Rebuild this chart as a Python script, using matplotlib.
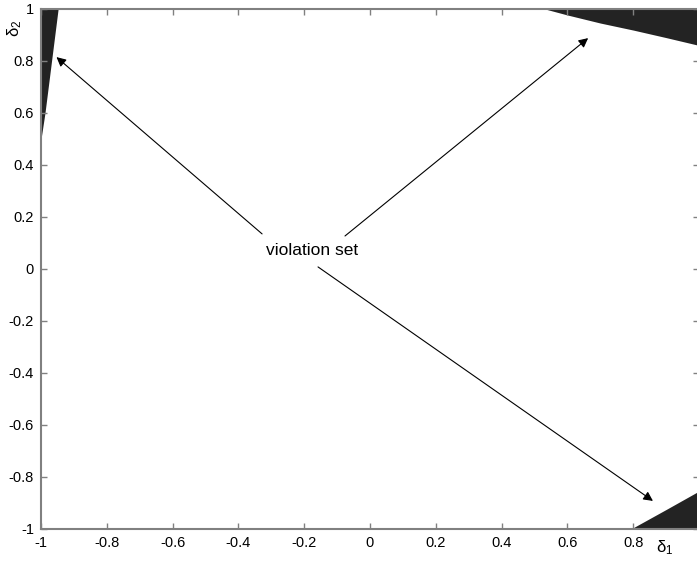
import matplotlib
matplotlib.use("Agg")
import matplotlib.pyplot as plt

# boundary of the violation set regions
tl_y = [0.50, 0.60, 0.70, 0.80, 0.90, 1.00]
tl_x = [-1.00, -0.988, -0.978, -0.968, -0.958, -0.948]

tr_x = [0.532, 0.60, 0.70, 0.80, 0.90, 1.00]
tr_y = [1.00, 0.977, 0.946, 0.919, 0.890, 0.860]

br_x = [0.793, 0.90, 1.00]
br_y = [-1.00, -0.925, -0.854]

ticks = [-1, -0.8, -0.6, -0.4, -0.2, 0, 0.2, 0.4, 0.6, 0.8, 1]
x_tick_labels = ["-1", "-0.8", "-0.6", "-0.4", "-0.2", "0", "0.2", "0.4", "0.6", "0.8", ""]
y_tick_labels = ["-1", "-0.8", "-0.6", "-0.4", "-0.2", "0", "0.2", "0.4", "0.6", "0.8", "1"]

label_text = "violation set"
text_pos = (-0.175, 0.07)
arrow_tails = [(-0.328, 0.135), (-0.076, 0.127), (-0.158, 0.008)]
arrow_tips = [(-0.953, 0.815), (0.663, 0.888), (0.860, -0.892)]

plt.rcParams['font.family'] = ['Liberation Sans', 'DejaVu Sans']
plt.rcParams['mathtext.fontset'] = 'custom'
plt.rcParams['mathtext.rm'] = 'Liberation Sans'
plt.rcParams['mathtext.it'] = 'Liberation Sans'

fig = plt.figure(figsize=(6.97, 5.64), dpi=100)
ax = fig.add_axes([41/697, 35/564, 658/697, 520/564])

fill_c = '#232323'
ax.fill_betweenx(tl_y, [-1.0]*len(tl_y), tl_x, color=fill_c, lw=0)
ax.fill_between(tr_x, tr_y, [1.0]*len(tr_x), color=fill_c, lw=0)
ax.fill_between(br_x, [-1.0]*len(br_x), br_y, color=fill_c, lw=0)

ax.set_xlim(-1, 1)
ax.set_ylim(-1, 1)
ax.set_xticks(ticks)
ax.set_xticklabels(x_tick_labels)
ax.set_yticks(ticks)
ax.set_yticklabels(y_tick_labels)

grey = '#808080'
for s in ax.spines.values():
    s.set_color(grey)
    s.set_linewidth(1.5)
ax.tick_params(direction='in', length=4, width=1, color=grey, labelsize=10.5,
               top=True, right=True, labelcolor='black', pad=5)

ax.text(*text_pos, label_text, fontsize=12.5, ha='center', va='center')
for tail, tip in zip(arrow_tails, arrow_tips):
    ax.annotate('', xy=tip, xytext=tail,
                arrowprops=dict(arrowstyle='-|>', color='black', lw=0.8,
                                mutation_scale=14, shrinkA=0, shrinkB=0))

fig.text(665/697, 1 - 548/564, r'$\mathrm{\delta_1}$', fontsize=12, ha='center', va='center')
fig.text(15/697, 1 - 28/564, r'$\mathrm{\delta_2}$', fontsize=12, ha='center', va='center', rotation=90)

fig.savefig('out.png', dpi=100)
